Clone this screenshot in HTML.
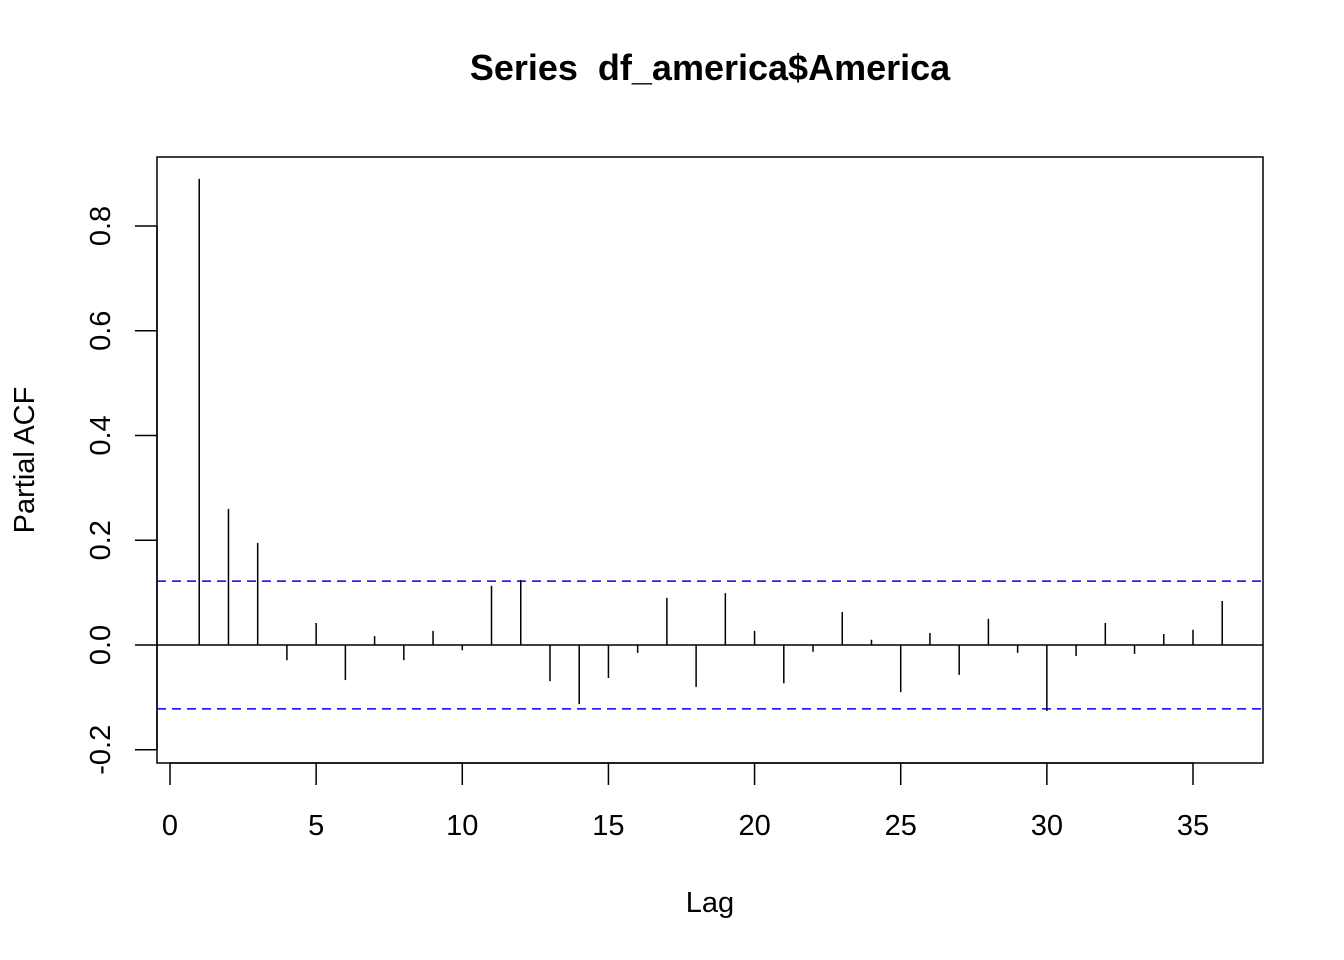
<!DOCTYPE html>
<html><head><meta charset="utf-8"><style>
html,body{margin:0;padding:0;background:#fff;}
svg{display:block;font-family:"Liberation Sans",Arial,sans-serif;}
</style></head><body>
<svg id="chart" width="1344" height="960" viewBox="0 0 1344 960">
<text x="710" y="80" text-anchor="middle" font-size="36" font-weight="bold" style="white-space:pre" xml:space="preserve">Series  df_america$America</text>
<rect x="157" y="157" width="1106" height="606" fill="none" stroke="#000" stroke-width="1.5"/>
<text x="710" y="912" text-anchor="middle" font-size="29">Lag</text>
<text transform="translate(34,460) rotate(-90)" text-anchor="middle" font-size="29">Partial ACF</text>
<g id="xaxis"></g>
<g id="yaxis"></g>
<g id="marks"></g>
</svg>
<script>
const lags = [1,2,3,4,5,6,7,8,9,10,11,12,13,14,15,16,17,18,19,20,21,22,23,24,25,26,27,28,29,30,31,32,33,34,35,36];
const pacfValues = [0.890,0.260,0.195,-0.029,0.042,-0.067,0.017,-0.029,0.027,-0.010,0.113,0.124,-0.069,-0.113,-0.063,-0.015,0.090,-0.080,0.099,0.027,-0.073,-0.013,0.063,0.010,-0.090,0.023,-0.057,0.050,-0.015,-0.126,-0.021,0.042,-0.017,0.021,0.029,0.084];
const confBound = [0.122];
const xTicks = [0,5,10,15,20,25,30,35];
const yTicks = [-0.2,0.0,0.2,0.4,0.6,0.8];
const yTickLabels = ["-0.2","0.0","0.2","0.4","0.6","0.8"];

const NS = "http://www.w3.org/2000/svg";
function xs(v){return 170 + v*(1193-170)/35;}
function ys(v){return 645 - v*523.75;}
function mk(tag, attrs, parent){const e=document.createElementNS(NS,tag);for(const k in attrs)e.setAttribute(k,attrs[k]);parent.appendChild(e);return e;}

const xa=document.getElementById('xaxis');
let l=mk('line',{x1:xs(xTicks[0]),x2:xs(xTicks[xTicks.length-1]),y1:763,y2:763,stroke:'#000','stroke-width':1.5},xa);


xTicks.forEach(t=>{
  const tk=mk('line',{x1:xs(t),x2:xs(t),y1:763,y2:785,stroke:'#000','stroke-width':1.5},xa);
  
  
  const tx=mk('text',{x:xs(t),y:835,'text-anchor':'middle','font-size':29},xa);
  tx.textContent=t;
  
  
});

const ya=document.getElementById('yaxis');
l=mk('line',{x1:157,x2:157,y1:ys(yTicks[0]),y2:ys(yTicks[yTicks.length-1]),stroke:'#000','stroke-width':1.5},ya);


yTicks.forEach((t,i)=>{
  const tk=mk('line',{x1:135,x2:157,y1:ys(t),y2:ys(t),stroke:'#000','stroke-width':1.5},ya);
  
  
  const tx=mk('text',{transform:`translate(110,${ys(t)}) rotate(-90)`,'text-anchor':'middle','font-size':29},ya);
  tx.textContent=yTickLabels[i];
  
  
});

const mg=document.getElementById('marks');
const zl=mk('line',{x1:157,x2:1263,y1:ys(0),y2:ys(0),stroke:'#000','stroke-width':1.5},mg);


[confBound[0],-confBound[0]].forEach(c=>{
  const d=mk('line',{x1:157,x2:1263,y1:ys(c),y2:ys(c),stroke:'#0000ff','stroke-width':1.5,'stroke-dasharray':'9,6'},mg);
  
  
});
lags.forEach((lg,i)=>{
  const b=mk('line',{x1:xs(lg),x2:xs(lg),y1:ys(0),y2:ys(pacfValues[i]),stroke:'#000','stroke-width':1.5},mg);
  
  
});
</script>
</body></html>
